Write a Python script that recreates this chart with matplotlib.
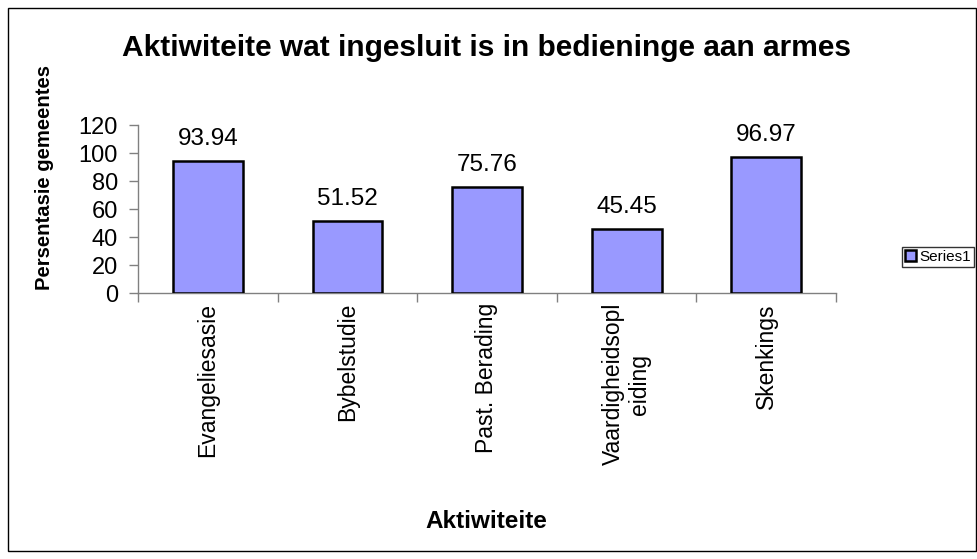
import matplotlib
matplotlib.use("Agg")
import matplotlib.pyplot as plt
from matplotlib.patches import Rectangle
import numpy as np

plt.rcParams['font.family'] = ['Liberation Sans', 'DejaVu Sans']

categories = ["Evangeliesasie", "Bybelstudie", "Past. Berading", "Vaardigheidsopl\neiding", "Skenkings"]
values = [93.94, 51.52, 75.76, 45.45, 96.97]
value_labels = ["93.94", "51.52", "75.76", "45.45", "96.97"]
yticks = [0, 20, 40, 60, 80, 100, 120]
series_name = "Series1"
title = "Aktiwiteite wat ingesluit is in bedieninge aan armes"
xlabel = "Aktiwiteite"
ylabel = "Persentasie gemeentes"

W, H = 977, 559
fig = plt.figure(figsize=(W / 100, H / 100), dpi=100)
fig.patch.set_facecolor("white")

# outer chart border
fig.patches.append(Rectangle((8 / W, 1 - 551 / H), (975.5 - 8) / W, (551 - 8) / H,
                             transform=fig.transFigure, fill=False,
                             edgecolor="black", linewidth=1.0))

ax = fig.add_axes([138 / W, 1 - 293 / H, (836 - 138) / W, (293 - 125) / H])
x = np.arange(len(categories))
bars = ax.bar(x, values, width=0.5, color="#9999FF", edgecolor="black",
              linewidth=1.8, label=series_name, zorder=3)

for xi, v, lab in zip(x, values, value_labels):
    ax.annotate(lab, (xi, v), xytext=(0, 8), textcoords="offset points",
                ha="center", va="bottom", fontsize=17.5)

ax.set_xlim(-0.5, len(categories) - 0.5)
ax.set_ylim(0, 120)
ax.set_yticks(yticks)
ax.set_yticklabels([str(t) for t in yticks], fontsize=17)

# category boundary ticks
ax.set_xticks(np.arange(len(categories) + 1) - 0.5)
ax.set_xticklabels([])
ax.tick_params(axis="x", direction="out", length=6.5, color="#808080", width=1)
ax.tick_params(axis="y", direction="out", length=6.5, color="#808080", width=1, pad=8)

for xi, c in zip(x, categories):
    ax.text(xi, -0.06, c, transform=ax.get_xaxis_transform(), rotation=90,
            ha="center", va="top", fontsize=16.5, multialignment="center",
            rotation_mode="default")

for s in ["top", "right"]:
    ax.spines[s].set_visible(False)
for s in ["left", "bottom"]:
    ax.spines[s].set_color("#808080")
    ax.spines[s].set_linewidth(1.0)

fig.text(487 / W, 1 - 48 / H, title, ha="center", va="center",
         fontsize=21.5, fontweight="bold")
fig.text(45 / W, 1 - 178 / H, ylabel, rotation=90, ha="center", va="center",
         fontsize=14.6, fontweight="bold")
fig.text(486 / W, 1 - 521 / H, xlabel, ha="center", va="center",
         fontsize=17.5, fontweight="bold")

leg = fig.legend(handles=[bars], labels=[series_name], loc="center right",
                 bbox_to_anchor=(974 / W, 1 - 257 / H), fontsize=11,
                 frameon=True, fancybox=False, borderpad=0.2,
                 handlelength=0.7, handleheight=0.7, handletextpad=0.25,
                 borderaxespad=0)
leg.get_frame().set_edgecolor("black")
leg.get_frame().set_linewidth(1.0)

fig.savefig("out.png", dpi=100)
